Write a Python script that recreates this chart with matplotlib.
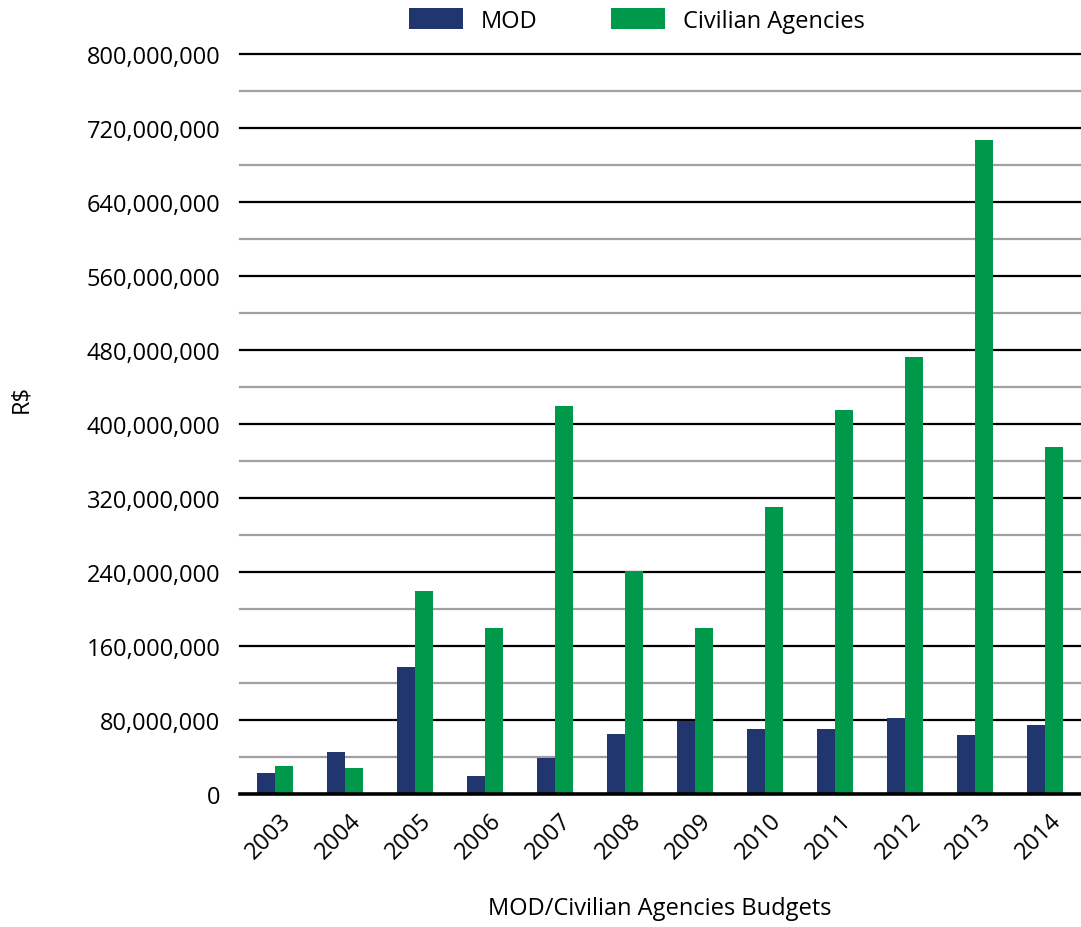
import matplotlib.pyplot as plt
import numpy as np
from matplotlib.ticker import FuncFormatter
from matplotlib.transforms import ScaledTranslation

anos = ["2003", "2004", "2005", "2006", "2007", "2008",
        "2009", "2010", "2011", "2012", "2013", "2014"]
mod = [22.5e6, 45e6, 137e6, 20e6, 39e6, 65e6,
       79e6, 70e6, 70e6, 82e6, 64e6, 75e6]
civis = [30e6, 28e6, 220e6, 180e6, 420e6, 241e6,
         180e6, 310e6, 415e6, 472e6, 707e6, 375e6]

cor_mod = "#21366f"
cor_civ = "#00984a"

plt.rcParams['font.family'] = ['Open Sans', 'DejaVu Sans']
fs = 17

fig = plt.figure(figsize=(10.81, 9.28), dpi=100)
ax = fig.add_axes([0.222, 0.1433, 0.777, 0.7974])

x = np.arange(len(anos))
w = 0.257
ax.bar(x - w / 2, mod, w, color=cor_mod, label="MOD", zorder=3)
ax.bar(x + w / 2, civis, w, color=cor_civ, label="Civilian Agencies", zorder=3)

ax.set_xlim(-0.5, len(anos) - 0.5)
ax.set_ylim(0, 800e6)

# linhas de grade: pretas a cada 80M, cinzas no meio
for v in np.arange(0, 800e6 + 1, 40e6):
    if v == 0:
        ax.axhline(v, color="black", lw=2.6, zorder=4, clip_on=False)
    elif v % 80e6 == 0:
        ax.axhline(v, color="black", lw=1.6, zorder=2, clip_on=False)
    else:
        ax.axhline(v, color="#a0a0a4", lw=1.6, zorder=2, clip_on=False)

ax.set_yticks(np.arange(0, 800e6 + 1, 80e6))
ax.yaxis.set_major_formatter(FuncFormatter(lambda v, p: f"{int(v):,}"))
ax.tick_params(axis="y", length=0, pad=14, labelsize=fs)
ax.tick_params(axis="x", length=0, pad=10, labelsize=fs)
ax.set_xticks(x)
ax.set_xticklabels(anos, rotation=45, ha="right", va="top",
                   rotation_mode="anchor")
desloc = ScaledTranslation(0.04, 0, fig.dpi_scale_trans)
for t in ax.get_xticklabels():
    t.set_transform(t.get_transform() + desloc)

for s in ax.spines.values():
    s.set_visible(False)

ax.set_xlabel("MOD/Civilian Agencies Budgets", fontsize=fs, labelpad=24)
fig.text(0.02, 0.57, "R$", rotation=90, fontsize=fs, va="center", ha="center")

fig.legend(loc="upper center", bbox_to_anchor=(0.589, 1.013), ncol=2,
           frameon=False, fontsize=fs, handlelength=2.3, handleheight=1.0,
           columnspacing=3.1, handletextpad=0.75)

fig.savefig("out.png", dpi=100)
